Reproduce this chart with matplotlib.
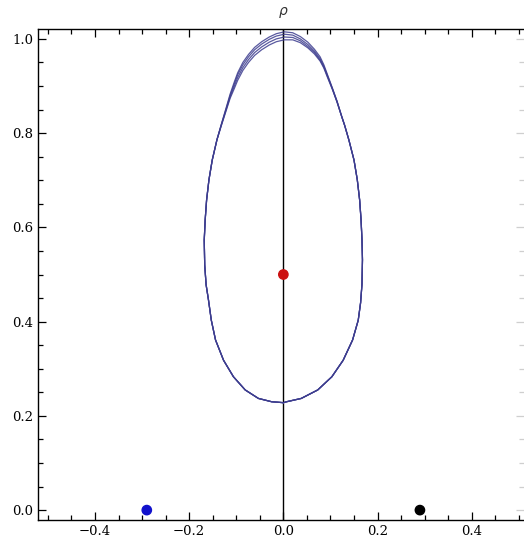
import numpy as np
import matplotlib
matplotlib.use("Agg")
import matplotlib.pyplot as plt
from matplotlib.ticker import MultipleLocator, FuncFormatter, NullFormatter

# ORBIT OUTLINE
left_x = [0.0, -0.025, -0.053, -0.081, -0.106, -0.127, -0.144, -0.153, -0.159,
          -0.164, -0.167, -0.168, -0.166, -0.163, -0.158, -0.151]
left_y = [0.228, 0.230, 0.237, 0.255, 0.283, 0.318, 0.361, 0.403, 0.446,
          0.478, 0.520, 0.573, 0.616, 0.658, 0.701, 0.743]
right_x = [0.150, 0.157, 0.162, 0.165, 0.167, 0.168, 0.167, 0.164, 0.159,
           0.147, 0.127, 0.103, 0.073, 0.038, 0.007, 0.0]
right_y = [0.743, 0.701, 0.658, 0.616, 0.573, 0.531, 0.480, 0.440, 0.403,
           0.361, 0.318, 0.283, 0.255, 0.237, 0.230, 0.228]

# upper arc, one per loop (same x, slightly different heights)
top_x = [-0.141, -0.132, -0.122, -0.113, -0.104, -0.097, -0.086, -0.074,
         -0.061, -0.046, -0.030, -0.015, 0.002, 0.020, 0.036, 0.052, 0.066,
         0.078, 0.086, 0.093, 0.104, 0.114, 0.124, 0.130, 0.139]
top_y = [
    [0.786, 0.818, 0.852, 0.883, 0.909, 0.928, 0.950, 0.967, 0.982, 0.994,
     1.004, 1.011, 1.015, 1.013, 1.005, 0.993, 0.978, 0.962, 0.945, 0.926,
     0.896, 0.868, 0.835, 0.817, 0.786],
    [0.786, 0.817, 0.850, 0.880, 0.905, 0.924, 0.945, 0.962, 0.977, 0.989,
     0.999, 1.006, 1.010, 1.008, 1.000, 0.988, 0.974, 0.958, 0.942, 0.924,
     0.895, 0.867, 0.835, 0.817, 0.786],
    [0.786, 0.816, 0.848, 0.877, 0.900, 0.918, 0.939, 0.956, 0.971, 0.983,
     0.993, 1.000, 1.004, 1.003, 0.996, 0.984, 0.971, 0.955, 0.940, 0.922,
     0.894, 0.866, 0.835, 0.817, 0.786],
    [0.786, 0.815, 0.846, 0.874, 0.895, 0.912, 0.933, 0.950, 0.965, 0.977,
     0.987, 0.994, 0.998, 0.998, 0.992, 0.981, 0.968, 0.953, 0.938, 0.920,
     0.893, 0.866, 0.835, 0.817, 0.786],
]

# BODIES
body_x = [0.0, -0.29, 0.29]
body_y = [0.5, 0.0, 0.0]
body_c = ["#cc1111", "#1111cc", "#000000"]

fig = plt.figure(figsize=(5.24, 5.44), dpi=100)
ax = fig.add_axes([38 / 524, 24 / 544, 486 / 524, 491 / 544])

orbit_color = "#3d3d8f"
for ty in top_y:
    xs = left_x + top_x + right_x
    ys = left_y + ty + right_y
    ax.plot(xs, ys, color=orbit_color, lw=0.9, alpha=0.85,
            solid_joinstyle="round")

ax.axvline(0, color="black", lw=1.0, zorder=1)

ax.scatter(body_x, body_y, c=body_c, s=45, zorder=5)

ax.set_xlim(-0.521, 0.511)
ax.set_ylim(-0.021, 1.021)

fmt = FuncFormatter(lambda v, p: f"{v:.1f}".replace("-", "\u2212"))
ax.xaxis.set_major_locator(MultipleLocator(0.2))
ax.xaxis.set_minor_locator(MultipleLocator(0.05))
ax.yaxis.set_major_locator(MultipleLocator(0.2))
ax.yaxis.set_minor_locator(MultipleLocator(0.05))
ax.xaxis.set_major_formatter(fmt)
ax.yaxis.set_major_formatter(fmt)

ax.tick_params(which="both", direction="in", top=True, right=False,
               labelsize=9.5, colors="black", width=0.9)
ax.tick_params(which="major", length=6)
ax.tick_params(which="minor", length=3.5)
for lbl in ax.get_xticklabels() + ax.get_yticklabels():
    lbl.set_fontfamily("DejaVu Serif")

# faint right-hand ticks, frame cut off at the image edge
sec = ax.secondary_yaxis("right")
sec.yaxis.set_major_locator(MultipleLocator(0.2))
sec.yaxis.set_minor_locator(MultipleLocator(0.05))
sec.yaxis.set_major_formatter(NullFormatter())
sec.tick_params(which="both", direction="in", color="#cfcfcf", width=0.9)
sec.tick_params(which="major", length=6)
sec.tick_params(which="minor", length=3.5)
sec.spines["right"].set_visible(False)

for side in ["left", "bottom", "top"]:
    ax.spines[side].set_linewidth(1.0)
ax.spines["right"].set_visible(False)

ax.text(0, 1.04, r"$\rho$", transform=ax.transData, ha="center", va="bottom",
        fontsize=10, color="#333333")

fig.savefig("out.png", dpi=100)
